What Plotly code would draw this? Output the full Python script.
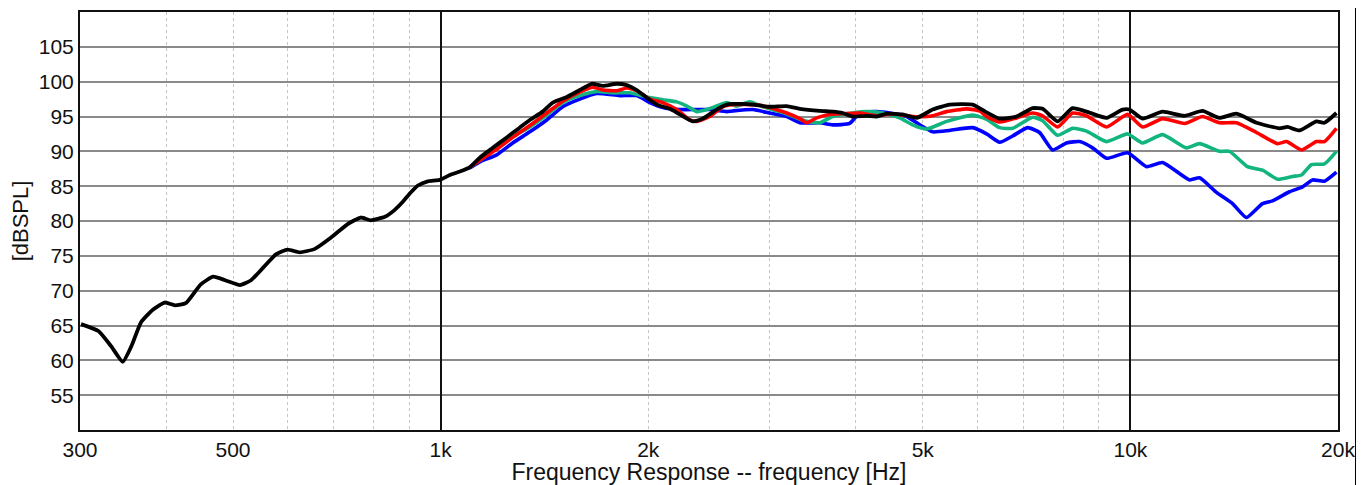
import plotly.graph_objects as go
import math

# ---------------- data ----------------
black_f = [301, 319, 333, 346, 356, 368, 383, 398, 412, 427, 449, 468, 487, 512, 531, 553, 577, 600, 625, 657,
           693, 734, 766, 792, 830, 858, 882, 905, 927, 958, 997, 1031, 1066, 1102, 1140, 1190, 1247, 1302, 1347,
           1406, 1454, 1524, 1591, 1656, 1718, 1800, 1861, 1924, 1990, 2058, 2149, 2222, 2321, 2399, 2513, 2598,
           2651, 2714, 2835, 3000, 3175, 3316, 3545, 3702, 3827, 3957, 4146, 4287, 4433, 4676, 4899, 5168, 5470,
           5906, 6188, 6462, 6840, 7215, 7460, 7843, 8244, 8639, 9237, 9743, 9972, 10416, 11134, 11980, 12722,
           13466, 14250, 15236, 16450, 16895, 17586, 18615, 19115, 19897]
black_db = [65.2, 64.2, 62.0, 59.8, 62.0, 65.5, 67.3, 68.3, 67.9, 68.2, 70.9, 72.0, 71.5, 70.8, 71.5, 73.3, 75.2,
            75.9, 75.5, 76.0, 77.6, 79.6, 80.5, 80.1, 80.6, 81.6, 82.8, 84.1, 85.1, 85.7, 85.9, 86.6, 87.1, 87.7,
            89.1, 90.5, 92.0, 93.4, 94.5, 95.7, 97.0, 97.8, 98.8, 99.7, 99.4, 99.7, 99.5, 98.8, 97.7, 96.7, 96.1,
            95.3, 94.3, 94.7, 96.0, 96.7, 96.8, 96.8, 96.7, 96.4, 96.5, 96.1, 95.8, 95.7, 95.5, 95.0, 95.1, 95.0,
            95.4, 95.3, 94.8, 96.0, 96.7, 96.7, 95.6, 94.7, 95.0, 96.2, 96.1, 94.3, 96.2, 95.7, 94.8, 96.0, 96.0,
            94.7, 95.7, 95.1, 95.8, 94.8, 95.4, 94.1, 93.3, 93.5, 93.0, 94.3, 94.1, 95.5]

red_f = [1102, 1151, 1206, 1272, 1347, 1425, 1503, 1591, 1662, 1718, 1800, 1861, 1924, 2011, 2099, 2199, 2298,
         2352, 2455, 2564, 2651, 2835, 3000, 3175, 3316, 3394, 3509, 3665, 3827, 4050, 4287, 4522, 4834, 5065,
         5168, 5415, 5789, 6045, 6188, 6462, 6840, 7215, 7460, 7843, 8244, 8639, 9237, 9906, 10416, 11134, 11980,
         12722, 13466, 14250, 15236, 16340, 16841, 17704, 18615, 19115, 19897]
red_db = [87.7, 89.0, 90.3, 92.0, 93.7, 95.5, 97.2, 98.5, 99.2, 98.8, 98.7, 99.1, 98.7, 97.5, 97.0, 96.0, 94.5,
          94.3, 95.0, 96.4, 96.7, 96.7, 96.3, 95.5, 94.7, 94.1, 94.8, 95.3, 95.4, 95.5, 95.1, 95.4, 95.0, 95.0,
          95.1, 95.7, 96.1, 95.8, 95.0, 94.2, 94.8, 95.5, 95.1, 93.5, 95.5, 95.1, 93.5, 95.3, 93.5, 94.7, 94.0,
          95.0, 94.1, 94.1, 92.7, 91.1, 91.4, 90.2, 91.4, 91.4, 93.3]

green_f = [1102, 1151, 1206, 1272, 1347, 1425, 1503, 1591, 1684, 1776, 1880, 1990, 2099, 2199, 2275, 2352, 2431,
           2513, 2598, 2687, 2806, 2931, 3102, 3283, 3394, 3545, 3702, 3957, 4146, 4374, 4629, 4834, 5065, 5415,
           5906, 6188, 6462, 6749, 7215, 7460, 7843, 8244, 8639, 9237, 9906, 10416, 11134, 12060, 12597, 13466,
           13923, 14785, 15544, 16340, 17182, 17704, 18305, 19115, 19897]
green_db = [87.7, 89.0, 90.5, 92.1, 93.5, 95.2, 97.0, 98.0, 98.6, 98.4, 98.4, 97.8, 97.4, 97.1, 96.5, 95.7, 96.0,
            96.5, 97.0, 96.5, 97.1, 96.4, 95.7, 94.8, 94.3, 94.1, 95.0, 95.5, 95.7, 95.5, 94.8, 93.8, 93.2, 94.3,
            95.2, 94.6, 93.4, 93.3, 94.9, 94.4, 92.3, 93.3, 92.9, 91.4, 92.5, 91.2, 92.4, 90.5, 91.1, 90.0, 90.0,
            87.8, 87.3, 86.0, 86.4, 86.6, 88.1, 88.2, 90.0]

blue_f = [1102, 1140, 1206, 1272, 1347, 1425, 1503, 1591, 1684, 1818, 1924, 2011, 2099, 2222, 2352, 2455, 2598,
          2651, 2835, 3000, 3175, 3316, 3545, 3702, 3917, 4050, 4287, 4477, 4739, 4949, 5168, 5470, 5906, 6188,
          6462, 6749, 7095, 7385, 7712, 8080, 8440, 8814, 9237, 9906, 10556, 11134, 12183, 12597, 13331, 14062,
          14734, 15544, 16071, 17008, 17765, 18368, 19115, 19897]
blue_db = [87.6, 88.5, 89.5, 91.2, 92.8, 94.5, 96.4, 97.5, 98.3, 98.0, 98.0, 97.0, 96.3, 96.0, 96.0, 96.0, 95.7,
           95.8, 96.0, 95.5, 95.0, 94.1, 94.1, 93.8, 94.0, 95.5, 95.7, 95.5, 95.0, 93.8, 92.8, 93.0, 93.4, 92.5,
           91.3, 92.2, 93.4, 92.7, 90.2, 91.2, 91.4, 90.5, 89.0, 89.8, 87.8, 88.4, 85.9, 86.2, 84.1, 82.5, 80.5,
           82.5, 82.9, 84.2, 84.9, 85.9, 85.7, 87.0]

x_tick_vals = [300, 500, 1000, 2000, 5000, 10000, 20000]
x_tick_text = ["300", "500", "1k", "2k", "5k", "10k", "20k"]
x_minor_grid = [400, 500, 600, 700, 800, 900, 2000, 3000, 4000, 5000, 6000, 7000, 8000, 9000]
x_major_grid = [1000, 10000]
y_tick_vals = [55, 60, 65, 70, 75, 80, 85, 90, 95, 100, 105]

# ---------------- figure ----------------
FONT = "Liberation Sans, Arial, Helvetica, sans-serif"
fig = go.Figure()

series = [
    (blue_f, blue_db, "#0000ff", 3.6),
    (green_f, green_db, "#12b57f", 3.6),
    (red_f, red_db, "#ff0000", 3.6),
    (black_f, black_db, "#000000", 3.8),
]
for f, db, col, w in series:
    fig.add_trace(go.Scatter(x=f, y=db, mode="lines",
                             line=dict(color=col, width=w, shape="spline", smoothing=0.5),
                             showlegend=False, hoverinfo="skip"))

# invisible trace to activate overlay axis for major vertical grid lines
fig.add_trace(go.Scatter(x=[300, 20000], y=[50, 50], xaxis="x2", mode="lines",
                         line=dict(width=0), showlegend=False, hoverinfo="skip"))

xr = [math.log10(300), math.log10(20000)]

# page has an 8px body margin, so the figure is sized to the remaining viewport
fig.update_layout(
    width=1356, height=477,
    margin=dict(l=72, r=26, t=4, b=55, autoexpand=False),
    paper_bgcolor="white", plot_bgcolor="white",
    font=dict(family=FONT, size=21, color="#111"),
    xaxis=dict(
        type="log", range=xr, automargin=False,
        tickmode="array", tickvals=x_tick_vals, ticktext=x_tick_text,
        showgrid=False, ticks="", zeroline=False,
        showline=True, linecolor="#111", linewidth=2, mirror=True,
        minor=dict(tickmode="array", tickvals=x_minor_grid, showgrid=True,
                   gridcolor="#c4c4c4", gridwidth=1, griddash="dot", ticks=""),
        title=dict(text="Frequency Response -- frequency [Hz]", standoff=4,
                   font=dict(size=23)),
        tickfont=dict(size=21),
    ),
    xaxis2=dict(
        type="log", range=xr, overlaying="x", side="bottom", automargin=False,
        tickmode="array", tickvals=x_major_grid, showticklabels=False,
        showgrid=True, gridcolor="#111", gridwidth=2, ticks="", zeroline=False,
        showline=False,
    ),
    yaxis=dict(
        range=[50, 110], tickmode="array", tickvals=y_tick_vals, automargin=False,
        showgrid=True, gridcolor="#8a8a8a", gridwidth=2, ticks="", zeroline=False,
        showline=True, linecolor="#111", linewidth=2, mirror=True,
        title=dict(text="[dBSPL]", standoff=8, font=dict(size=22)),
        tickfont=dict(size=21),
    ),
    shapes=[dict(type="line", xref="paper", yref="paper", x0=1.0143, x1=1.0143,
                 y0=-0.14, y1=1.04, line=dict(color="#000", width=2))],
)

fig.write_html("out.html")
